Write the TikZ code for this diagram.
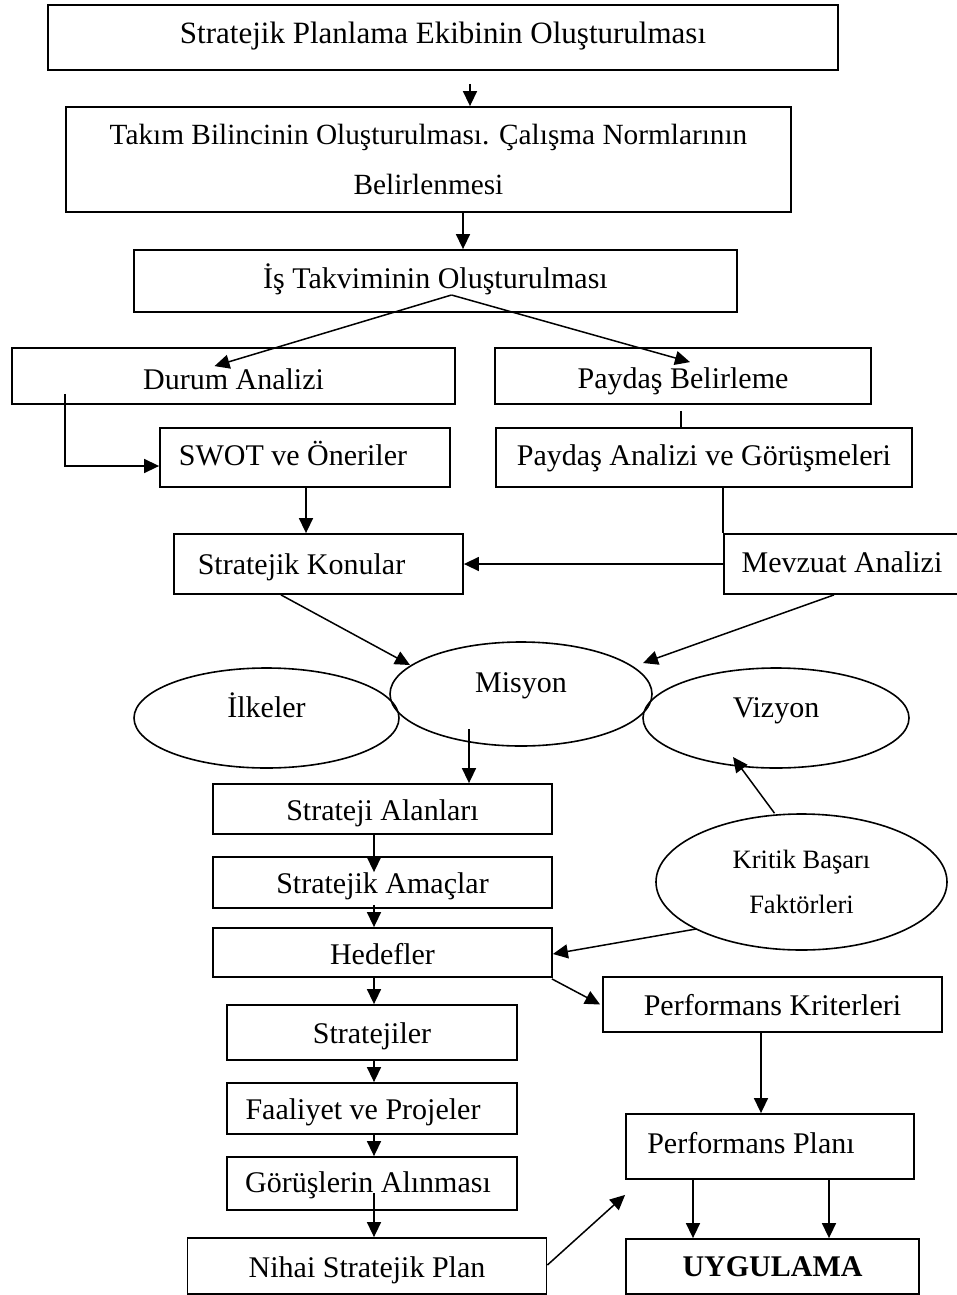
\documentclass[tikz,border=0pt]{standalone}
\usepackage{fontspec}
\setmainfont{Liberation Serif}
\usetikzlibrary{arrows.meta,shapes.geometric,calc}
\begin{document}
\begin{tikzpicture}[x=1pt,y=-1pt,
  font=\fontsize{30}{36}\selectfont,
  bl/.code={\pgfmathsetmacro\blH{15+#1}\pgfmathsetmacro\blD{15-#1}\edef\blnext{\noexpand\tikzset{text height=\blH pt,text depth=\blD pt}}\blnext},
  box/.style n args={2}{draw, line width=1.8pt, inner sep=0pt, minimum width=#1, minimum height=#2},
  ell/.style n args={2}{draw, ellipse, line width=1.6pt, inner sep=0pt, minimum width=#1, minimum height=#2},
  arr/.style={line width=1.5pt, -{Triangle[length=15pt,width=14pt]}},
  ln/.style={line width=1.5pt}]
\fill[white] (0,0) rectangle (956,1295);
\useasboundingbox (0,0) rectangle (956,1295);

% boxes
\node[box={790}{65}, bl=6, font=\fontsize{31}{36}\selectfont] (b1) at (443,37.5) {Stratejik Planlama Ekibinin Oluşturulması};
\node[box={725}{105}, align=center, font=\fontsize{29.3}{50}\selectfont] (b2) at (428.5,159.5) {Takım Bilincinin Oluşturulması. Çalışma Normlarının\\Belirlenmesi};
\node[box={603}{62}, bl=7] (b3) at (435.5,281) {İş Takviminin Oluşturulması};
\node[box={443}{56}, bl=13] (durum) at (233.5,376) {Durum Analizi};
\node[box={376}{56}, bl=12] (pbel) at (683,376) {Paydaş Belirleme};
\node[box={290}{59}, bl=7.5] (swot) at (305,457.5) {\kern-24pt SWOT ve Öneriler};
\node[box={416}{59}, bl=7.5] (pan) at (704,457.5) {Paydaş Analizi ve Görüşmeleri};
\node[box={289}{60}, bl=10.5] (sk) at (318.5,564) {\kern-34pt Stratejik Konular};
\node[box={240}{60}, bl=8] (mev) at (844,564) {\kern-4pt Mevzuat Analizi};

% ellipses
\node[ell={265}{100}, label={[bl=-1]center:İlkeler}] (ilk) at (266.5,718) {};
\node[ell={266}{100}, label={[bl=-1]center:Vizyon}] (viz) at (776,718) {};
\node[ell={262}{104}, label={[bl=-2]center:Misyon}] (mis) at (521,694) {};
\node[ell={291}{136}, align=center, font=\fontsize{26.5}{45}\selectfont] (kbf) at (801.5,882) {Kritik Başarı\\Faktörleri};

% lower boxes
\node[box={339}{50}, bl=11] (sa) at (382.5,809) {Strateji Alanları};
\node[box={339}{51}, bl=10.5] (am) at (382.5,882.5) {Stratejik Amaçlar};
\node[box={339}{49}, bl=12] (hed) at (382.5,952.5) {Hedefler};
\node[box={339}{55}, bl=10.5] (pk) at (772.5,1004.5) {Performans Kriterleri};
\node[box={290}{55}, bl=10.5] (st) at (372,1032.5) {Stratejiler};
\node[box={290}{51}, bl=11] (fp) at (372,1108.5) {\kern-18pt Faaliyet ve Projeler};
\node[box={290}{53}, bl=8.5] (gor) at (372,1183.5) {\kern-8pt Görüşlerin Alınması};
\node[box={359}{56}, bl=11] (nsp) at (367,1266) {Nihai Stratejik Plan};
\node[box={288}{65}, bl=6.5] (pp) at (770,1146.5) {\kern-38pt Performans Planı};
\node[box={293}{55}, bl=9.5] (uyg) at (772.5,1266.5) {\bfseries UYGULAMA};

% connectors
\draw[arr] ([shift={(27,13)}]b1.south) coordinate (t1) -- (t1 |- b2.north);
\draw[arr] ([shift={(34.5,0)}]b2.south) coordinate (t2) -- (t2 |- b3.north);
\draw[arr] ([shift={(16,14)}]b3.center) coordinate (t3) -- ([shift={(-19,19)}]durum.north);
\draw[arr] (t3) -- ([shift={(7,15)}]pbel.north);
\draw[arr] ([shift={(54,-11)}]durum.south west) |- ([shift={(0,8.5)}]swot.west);
\draw[ln] ([shift={(-2,6)}]pbel.south) coordinate (t6) -- (t6 |- pan.north);
\draw[arr] ([shift={(1,0)}]swot.south) coordinate (t7) -- (t7 |- sk.north);
\draw[ln] (mev.north west |- pan.south) -- (mev.north west);
\draw[arr] (mev.west) -- (mev.west -| sk.east);
\draw[arr] ([shift={(-37.5,0)}]sk.south) -- ([shift={(-111,-29)}]mis.center);
\draw[arr] ([shift={(-10,0)}]mev.south) -- ([shift={(122,-31)}]mis.center);
\draw[arr] ([shift={(-52,35)}]mis.center) coordinate (t12) -- (t12 |- sa.north);
\draw[arr] ([shift={(-8.5,0)}]sa.south) -- ([shift={(-8.5,16)}]am.north);
\draw[arr] ([shift={(-8.5,-4)}]am.south) coordinate (t14) -- (t14 |- hed.north);
\draw[arr] ([shift={(-105.5,47)}]kbf.center) -- ([shift={(0,1.5)}]hed.east);
\draw[arr] ([shift={(-27,0)}]kbf.north) -- ([shift={(-43,39)}]viz.center);
\draw[arr] ([shift={(-1,1)}]hed.south east) -- ([shift={(-2,0)}]pk.west);
\draw[arr] ([shift={(-8.5,0)}]hed.south) coordinate (t18) -- (t18 |- st.north);
\draw[arr] ([shift={(2,0)}]st.south) coordinate (t19) -- (t19 |- fp.north);
\draw[arr] ([shift={(2,0)}]fp.south) coordinate (t20) -- (t20 |- gor.north);
\draw[arr] ([shift={(2,9.5)}]gor.center) coordinate (t21) -- (t21 |- nsp.north);
\draw[arr] ([shift={(0,-1)}]nsp.east) -- ([shift={(0,15)}]pp.south west);
\draw[arr] ([shift={(-11.5,0)}]pk.south) coordinate (t23) -- (t23 |- pp.north);
\draw[arr] ([shift={(-77,0)}]pp.south) coordinate (t24) -- (t24 |- uyg.north);
\draw[arr] ([shift={(59,0)}]pp.south) coordinate (t25) -- (t25 |- uyg.north);
\end{tikzpicture}
\end{document}
